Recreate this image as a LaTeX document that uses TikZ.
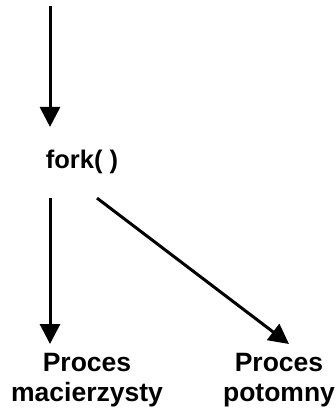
\documentclass[tikz,border=0pt]{standalone}
\usepackage{fontspec}
\setmainfont{Liberation Sans}
\usetikzlibrary{arrows.meta}
\tikzset{
  arr/.style={line width=3pt,-{Triangle[width=20pt,length=20pt]}},
  forklbl/.style={font=\bfseries\fontsize{25.5}{30}\selectfont,inner sep=0pt,anchor=base},
  proclbl/.style={font=\bfseries\fontsize{26.5}{30}\selectfont,inner sep=0pt,anchor=north,align=center}
}
\begin{document}
\begin{tikzpicture}[x=1pt,y=-1pt]
\useasboundingbox (0,0) rectangle (336,408);
\coordinate (s) at (50,6);
\node[forklbl] (fork) at (82,168) {fork( )};
\node[proclbl] (parent) at (87,353) {Proces\\macierzysty};
\node[proclbl] (child) at (279,353) {Proces\\potomny};
\draw[arr,shorten >=22.4pt] (s) -- (s |- fork.north);
\draw[arr,shorten <=24.6pt,shorten >=9pt] (s |- fork.south) -- (s |- parent.north);
\draw[arr] ([shift={(15,24.6)}]fork.south) -- ([shift={(10,-9)}]child.north);
\end{tikzpicture}
\end{document}
